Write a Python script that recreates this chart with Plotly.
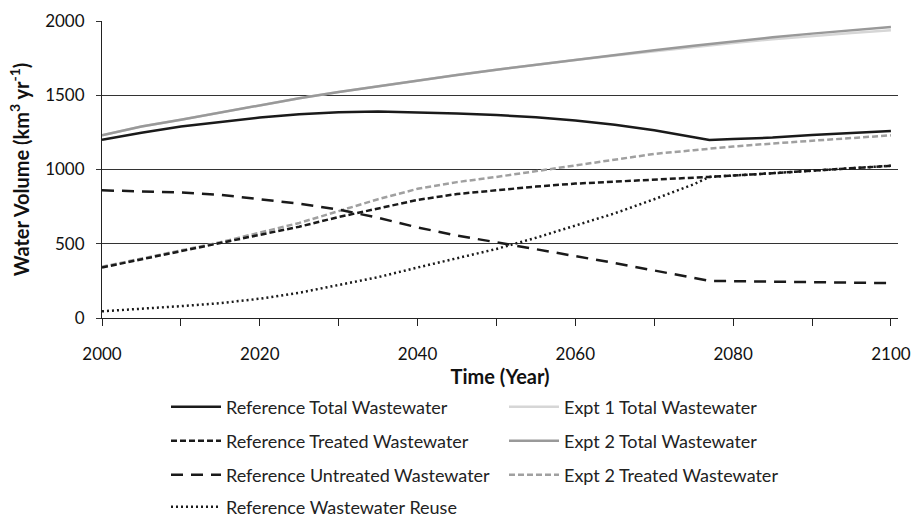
import plotly.graph_objects as go

years = [2000, 2005, 2010, 2015, 2020, 2025, 2030, 2035, 2040, 2045, 2050,
         2055, 2060, 2065, 2070, 2075, 2077, 2080, 2085, 2090, 2095, 2100]

ref_total = [1200, 1248, 1290, 1322, 1350, 1372, 1385, 1390, 1385, 1377, 1367,
             1352, 1330, 1302, 1265, 1220, 1198, 1205, 1215, 1232, 1245, 1260]
expt1_total = [1230, 1290, 1335, 1385, 1432, 1480, 1522, 1562, 1600, 1637, 1672,
               1706, 1738, 1768, 1797, 1825, 1836, 1852, 1877, 1900, 1920, 1938]
expt2_total = [1230, 1290, 1335, 1385, 1432, 1480, 1522, 1562, 1600, 1637, 1672,
               1706, 1740, 1772, 1803, 1833, 1845, 1862, 1890, 1915, 1938, 1960]
ref_treated = [340, 395, 450, 500, 555, 615, 680, 740, 795, 835, 862,
               885, 905, 920, 935, 945, 950, 958, 975, 992, 1008, 1025]
expt2_treated = [345, 400, 455, 510, 575, 640, 720, 800, 870, 915, 950,
                 990, 1030, 1070, 1105, 1130, 1140, 1155, 1175, 1195, 1212, 1230]
ref_untreated = [860, 855, 845, 830, 800, 770, 730, 675, 610, 555, 510,
                 465, 415, 370, 320, 272, 250, 248, 244, 240, 237, 235]
ref_reuse = [45, 60, 80, 100, 130, 170, 220, 275, 340, 400, 465,
             540, 620, 705, 800, 900, 950, 958, 975, 992, 1008, 1025]

FONT = "Lato"
W, H = 915, 517

series = [
    # name, values, colour, dash, legend row
    ("Reference Total Wastewater", ref_total, "#1a1a1a", "solid", "legend"),
    ("Expt 1 Total Wastewater", expt1_total, "#d6d6d6", "solid", "legend"),
    ("Reference Treated Wastewater", ref_treated, "#1a1a1a", "6px,3px", "legend2"),
    ("Expt 2 Total Wastewater", expt2_total, "#999999", "solid", "legend2"),
    ("Reference Untreated Wastewater", ref_untreated, "#1a1a1a", "12px,8px", "legend3"),
    ("Expt 2 Treated Wastewater", expt2_treated, "#a0a0a0", "6px,3px", "legend3"),
    ("Reference Wastewater Reuse", ref_reuse, "#1a1a1a", "2px,3px", "legend4"),
]

# lighter series first so the black reference lines sit on top
draw_order = [1, 3, 5, 0, 2, 4, 6]

fig = go.Figure()
traces = {}
for i, (name, vals, col, dash, lg) in enumerate(series):
    traces[i] = go.Scatter(
        x=years, y=vals, name=name, mode="lines",
        line=dict(color=col, width=2.5, dash=dash),
        legend=lg, legendrank=i,
    )
for i in draw_order:
    fig.add_trace(traces[i])

# one horizontal legend per row, placed in pixel terms on the page
row_px = [407, 441, 475, 507]
leg_common = dict(
    orientation="h", x=0.0804, xanchor="left", yanchor="middle", yref="container",
    entrywidth=273, entrywidthmode="pixels", itemwidth=50,
    font=dict(family=FONT, size=18, color="#222"),
    bgcolor="rgba(0,0,0,0)", borderwidth=0, traceorder="normal",
)
legends = {}
for k, py in enumerate(row_px):
    key = "legend" if k == 0 else f"legend{k + 1}"
    legends[key] = dict(y=1 - py / H, **leg_common)

fig.update_layout(
    width=W, height=H,
    margin=dict(l=102, r=17, t=21, b=199, autoexpand=False),
    paper_bgcolor="white", plot_bgcolor="white",
    font=dict(family=FONT, size=17, color="#111"),
    showlegend=True,
    **legends,
    xaxis=dict(
        range=[2000, 2100.9], tickvals=[2000, 2020, 2040, 2060, 2080, 2100],
        showgrid=False, zeroline=False,
        showline=True, linecolor="#222", linewidth=1,
        ticks="outside", ticklen=7, tickcolor="#222",
        minor=dict(tickvals=[2010, 2030, 2050, 2070, 2090], ticks="outside",
                   ticklen=7, tickcolor="#222", showgrid=False),
        ticklabelstandoff=14,
        tickfont=dict(family=FONT, size=17, color="#111"),
        title=dict(text="<b>Time (Year)</b>", font=dict(family=FONT, size=20, color="#111"), standoff=6),
    ),
    yaxis=dict(
        range=[0, 2000], tick0=0, dtick=500,
        showgrid=True, gridcolor="#333", gridwidth=1,
        zeroline=False,
        showline=True, linecolor="#222", linewidth=1,
        ticks="outside", ticklen=5, tickcolor="#333",
        ticklabelstandoff=8,
        tickfont=dict(family=FONT, size=17, color="#111"),
        title=dict(text="<b>Water Volume (km<sup>3</sup> yr<sup>-1</sup>)</b>",
                   font=dict(family=FONT, size=20, color="#111"), standoff=10),
    ),
)

fig.write_html("out.html")
